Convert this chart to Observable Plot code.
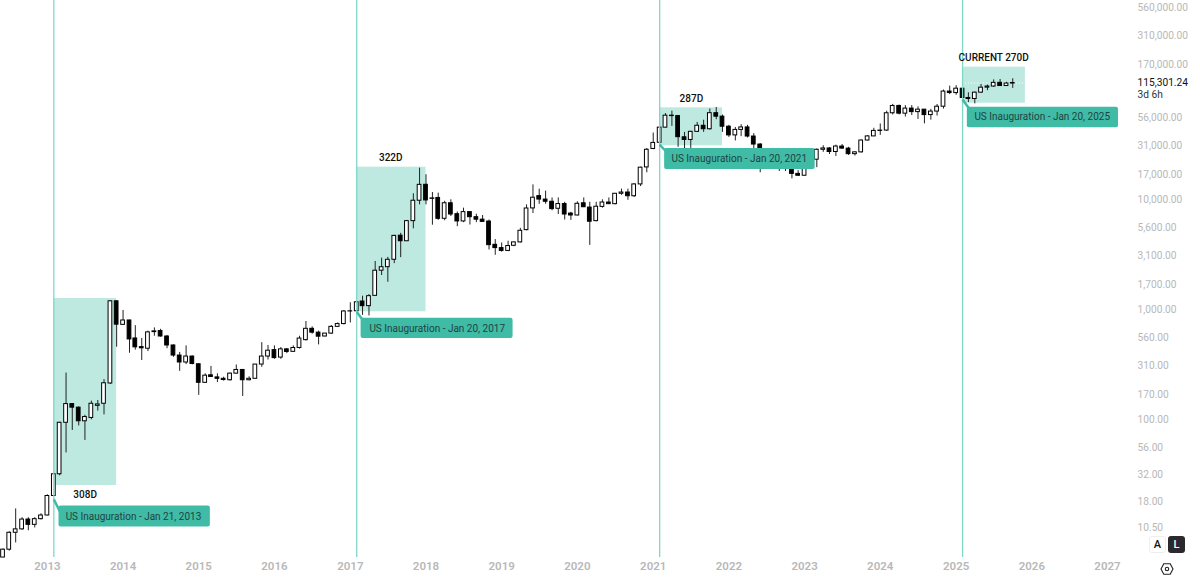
<!DOCTYPE html>
<html>
<head>
<meta charset="utf-8">
<script src="https://cdn.jsdelivr.net/npm/d3@7"></script>
<script src="https://cdn.jsdelivr.net/npm/@observablehq/plot@0.6"></script>
<style>
html,body{margin:0;padding:0;background:#fff;overflow:hidden}
#wrap{position:relative;width:1200px;height:579px}
.btn{position:absolute;top:536px;width:17px;height:17px;border-radius:3px;font:500 11px Roboto,sans-serif;line-height:17px;text-align:center;box-sizing:border-box}
</style>
</head>
<body>
<div id="wrap">
<div class="btn" style="left:1149px;background:#fff;border:1px solid #eee;color:#111;line-height:15px">A</div>
<div class="btn" style="left:1168px;background:#2a2a2e;color:#fff">L</div>
<svg style="position:absolute;left:1160px;top:562px" width="14" height="14" viewBox="0 0 14 14" aria-hidden="true"><path d="M3.8 1.8h6.4L13 7l-2.8 5.2H3.8L1 7z" fill="none" stroke="#222" stroke-width="1.1"/><circle cx="7" cy="7" r="1.7" fill="none" stroke="#222" stroke-width="1.1"/></svg>
</div>
<script>
const firstMonth = "2012-06-01";
const opens = [
  5.6,6.6,9.4,10.1,12.4,11.1,12.5,
  13.5,20.3,32,94,139,129,97,104,134,140,214,1195,
  730,800,549,458,443,627,641,572,474,384,332,376,
  320,217,254,243,236,229,263,284,229,236,318,376,
  430,368,437,415,450,530,672,620,572,608,700,742,
  966,970,1190,1080,1340,2268,2440,2850,4720,4200,6400,9810,
  13700,10200,10400,6720,9300,7400,6360,7730,6950,6600,6350,3900,
  3640,3430,3820,4100,5300,8350,10800,10050,9600,8290,9150,7500,
  7200,9300,8500,6400,8620,9450,9130,11350,11650,10780,13800,19700,
  29000,33000,45300,58200,57700,37000,35000,41500,47100,43800,61300,57000,
  46200,38500,43200,45500,37600,31800,19800,23300,20050,19400,20500,17200,
  16550,23100,23150,28500,29300,27200,30500,29200,26000,27000,34600,37700,
  42300,42600,61200,71300,60700,67500,62700,66000,58900,63400,70200,96400,
  93400,102400,84300,82500,94200,104600,107100,115700,108200,114000
];
const highs = [
  6.7,9.6,15.5,12.9,12.9,12.9,14,
  20.8,32.5,95,266,140,131,110,148,150,232,1210,1210,
  987,805,718,549,640,685,665,585,480,410,470,380,
  322,262,306,262,244,266,315,284,246,318,503,474,
  470,454,445,470,575,783,700,640,610,720,760,985,
  1158,1190,1330,1375,2750,2950,3000,4760,4960,6500,11360,19400,
  16900,11650,11500,9700,10000,7750,8400,7750,7400,7200,6550,4350,
  4050,4200,4130,5500,9000,13680,12500,12000,10400,10400,9500,7700,
  9600,10400,9500,9500,10000,10400,11400,12500,12500,14000,19800,29300,
  40500,46500,60800,64000,58500,41000,42000,50500,52900,66900,69000,59000,
  47500,45500,48200,47500,40000,32400,24700,25200,22700,20900,21400,18400,
  23900,25300,29000,31000,29800,31400,31800,30000,27400,35000,38400,44700,
  48900,63900,73700,72700,71900,71900,70000,65000,66400,73500,99500,108000,
  109000,102500,94000,95500,112000,110500,123000,124000,117000,126000
];
const lows = [
  5.6,6.4,7.6,9.9,9.8,10.4,12.3,
  13.4,20,31,50,80,88,65,100,120,111,210,457,
  725,403,430,346,417,575,565,443,370,276,318,316,
  167,215,244,218,225,225,260,163,226,235,300,350,
  355,355,400,412,440,520,600,480,568,600,690,730,
  760,960,890,880,1340,2050,1780,2630,2980,4200,5450,9000,
  9000,5880,6500,6450,7050,5700,6200,5900,6200,6250,3500,3130,
  3340,3380,3750,4050,5230,7500,9100,9100,7950,7350,6550,6500,
  7150,8500,3850,6300,8400,9050,9000,11000,9900,10500,13200,17600,
  28500,32800,45000,46500,30000,28500,29300,41000,41000,43000,53500,41000,
  36900,34300,37500,36500,29000,17600,18900,19600,18100,18100,15500,16300,
  16500,21400,19600,27000,25800,24800,28900,25300,25000,26600,34300,37600,
  38500,41900,59000,59100,56500,58400,53800,49000,53000,57800,66800,90500,
  89200,78200,76500,74500,93400,98200,105100,107300,107300,103000
];
const closes = [
  6.6,9.4,10.1,12.4,11.1,12.5,13.5,
  20.3,32,94,139,129,97,106,140,138,215,1195,733,
  800,538,456,447,624,637,572,474,384,332,376,322,
  217,252,245,236,230,263,284,229,236,318,376,425,
  364,437,414,450,548,672,620,570,608,700,742,966,
  970,1171,1080,1330,2268,2440,2850,4700,4200,6400,9810,13680,
  9870,10300,6720,9310,7350,6360,7730,6950,6600,6300,3870,3640,
  3430,3800,4100,5230,8340,10450,10050,9600,8230,9150,7350,7200,
  9200,8560,6320,8650,9450,9130,11350,11650,10780,13800,19600,28500,
  32900,45300,58200,57700,37100,35000,41500,47100,43800,61300,57000,46200,
  38500,43200,45500,37600,31800,19800,23300,20050,19400,20500,17200,16550,
  23100,23150,28500,29300,27200,30500,29200,26000,27000,34600,37700,42300,
  42600,61200,71300,60700,67500,62700,66000,58900,63400,70200,96400,93400,
  102400,84300,82500,94200,104600,107100,115700,108200,114000,115301.24
];
if (new Set([opens.length,highs.length,lows.length,closes.length]).size !== 1)
  throw new Error("length mismatch " + [opens.length,highs.length,lows.length,closes.length]);

const priceTicks = [10.5,18,32,56,100,170,310,560,1000,1700,3100,5600,10000,17000,31000,56000,170000,310000,560000];
const yearTicks = ["2013","2014","2015","2016","2017","2018","2019","2020","2021","2022","2023","2024","2025","2026","2027"];
const lastPrice = 115301.24;
const lastCountdown = "3d 6h";

const lineDates = ["2013-02-01","2017-02-01","2021-02-01","2025-02-01"];
const boxEnds = ["2013-12-01","2018-01-01","2021-12-01","2025-12-01"];
const boxTops = [1266,19800,68600,160600];
const boxBottoms = [25.3,960,31000,75600];

const spanTexts = ["308D","322D","287D","CURRENT 270D"];
const spanDates = ["2013-07-02","2017-07-15","2021-07-04","2025-07-01"];
const spanPrices = [20.95,24250,83200,197000];

const noteTexts = ["US Inauguration - Jan 21, 2013","US Inauguration - Jan 20, 2017","US Inauguration - Jan 20, 2021","US Inauguration - Jan 20, 2025"];
const noteDates = ["2014-02-20","2018-02-24","2022-02-20","2026-02-20"];
const notePrices = [13.2,677,23470,57000];
const noteStarts = ["2013-02-26","2017-02-22","2021-02-25","2025-02-24"];
const noteEnds = ["2015-02-26","2019-02-25","2023-02-21","2027-02-23"];
const noteTops = [16.5,840,29270,69500];
const noteBottoms = [10.6,548,18850,45300];
const tailFromPrices = [18.9,955,31800,81700];
const tailToDates = ["2013-03-04","2017-03-04","2021-03-04","2025-03-04"];
const tailToPrices = [14.5,800,27500,67700];

const D = s => new Date(s);
const candles = opens.map((o,i)=>({
  date: d3.utcMonth.offset(D(firstMonth), i), open:o, high:highs[i], low:lows[i], close:closes[i]
}));
const idx = lineDates.map((_,i)=>i);
const teal = "#7fd8c8", boxFill = "#bde9e0", noteFill = "#40bba6", axisGrey = "#b8b8b8";
const font = 'Roboto,sans-serif';
const money = d3.format(",.2f");

const chart = Plot.plot({
  width: 1200, height: 579,
  marginTop: 0, marginLeft: 0, marginRight: 63, marginBottom: 20,
  style: {background:"transparent", fontFamily:font, fontSize:"10px", overflow:"visible"},
  x: {type:"utc", domain:[D("2013-01-01"),D("2027-01-01")], range:[46.9,1107]},
  y: {type:"log", domain:[10.5,560000], range:[527,7]},
  marks: [
    Plot.rect(idx,{x1:i=>D(lineDates[i]),x2:i=>D(boxEnds[i]),y1:i=>boxBottoms[i],y2:i=>boxTops[i],fill:boxFill}),
    Plot.ruleY([lastPrice],{x1:()=>D("2025-02-01"),x2:()=>D("2025-12-01"),stroke:"#fff",strokeDasharray:"1,2"}),
    Plot.ruleX(candles,{x:"date",y1:"low",y2:"high",stroke:"#222",strokeWidth:1}),
    Plot.rect(candles,{
      x1:c=>d3.utcDay.offset(c.date,-9), x2:c=>d3.utcDay.offset(c.date,9),
      y1:"open", y2:"close",
      fill:c=>c.close>=c.open?"#fff":"#000", stroke:"#000", strokeWidth:1
    }),
    Plot.ruleX(idx,{x:i=>D(lineDates[i]),y1:5.6,y2:650000,stroke:teal,strokeWidth:1.3}),
    Plot.link(idx,{x1:i=>D(lineDates[i]),y1:i=>tailFromPrices[i],x2:i=>D(tailToDates[i]),y2:i=>tailToPrices[i],stroke:noteFill,strokeWidth:2.5}),
    Plot.rect(idx,{x1:i=>D(noteStarts[i]),x2:i=>D(noteEnds[i]),y1:i=>noteBottoms[i],y2:i=>noteTops[i],fill:noteFill,rx:2}),
    Plot.text(idx,{x:i=>D(noteDates[i]),y:i=>notePrices[i],text:i=>noteTexts[i],fill:"#1f4440",fontSize:10}),
    Plot.text(idx,{x:i=>D(spanDates[i]),y:i=>spanPrices[i],text:i=>spanTexts[i],fill:"#111",fontSize:10,fontWeight:500}),
    Plot.axisY(priceTicks,{anchor:"right",tickSize:0,tickPadding:0,text:d=>money(d),color:axisGrey,fontSize:10.2,label:null}),
    Plot.axisY([lastPrice],{anchor:"right",tickSize:0,tickPadding:0,text:d=>money(d),color:"#111",fontSize:10.2,label:null}),
    Plot.text([lastCountdown],{frameAnchor:"right",y:()=>lastPrice,dy:12,text:d=>d,textAnchor:"start",fill:"#333",fontSize:10.2}),
    Plot.axisX(yearTicks.map(y=>D(y+"-01-01")),{anchor:"bottom",tickSize:0,tickPadding:2,tickFormat:d3.utcFormat("%Y"),color:axisGrey,fontSize:11.5,fontWeight:600,label:null})
  ]
});
document.getElementById("wrap").prepend(chart);
</script>
</body>
</html>
